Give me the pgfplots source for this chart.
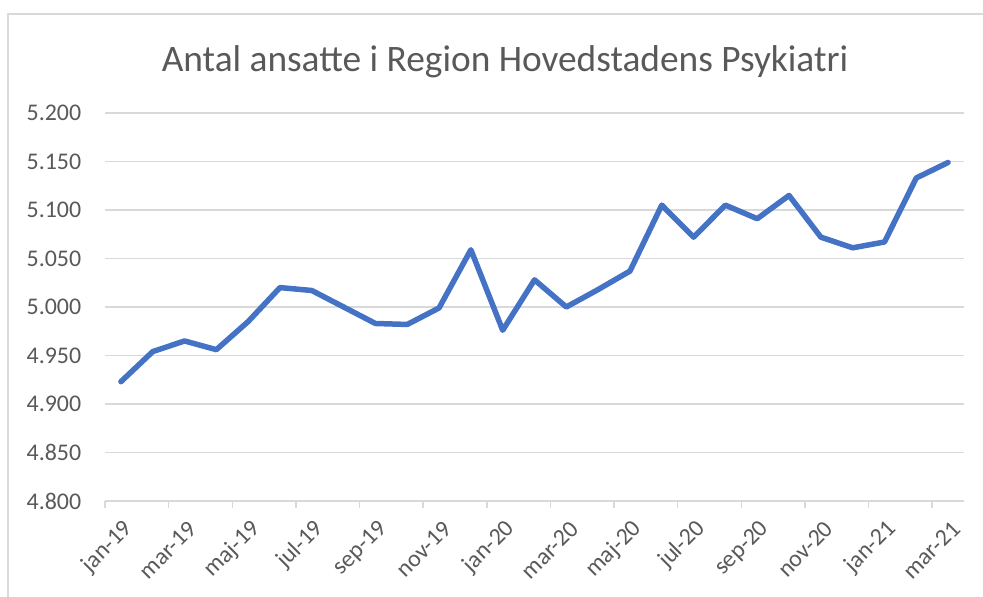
\documentclass[border=0pt]{standalone}
\usepackage{pgfplots}
\pgfplotsset{compat=1.18}
\usepackage{fontspec}
\setmainfont{Carlito}
\definecolor{txt}{HTML}{595959}
\definecolor{grd}{HTML}{D9D9D9}
\definecolor{ser}{HTML}{4472C4}
\begin{document}
\begin{tikzpicture}[x=1bp,y=1bp]
\useasboundingbox (0,0) rectangle (983,597);
\draw[grd, line width=1.2bp] (8,0) -- (8,583) -- (983,583);
\node[anchor=base, text=txt, font=\fontsize{37.5}{40}\selectfont] at (505,525) {Antal ansatte i Region Hovedstadens Psykiatri};
\begin{axis}[
  at={(105bp,96bp)}, anchor=south west,
  width=859bp, height=388bp, scale only axis,
  xmin=-0.5, xmax=26.5, ymin=4800, ymax=5200,
  axis x line*=bottom, axis y line*=left,
  y axis line style={draw=none},
  x axis line style={grd, line width=1.5bp},
  ytick={4800,4850,...,5200},
  yticklabels={4.800,4.850,4.900,4.950,5.000,5.050,5.100,5.150,5.200},
  ytick style={draw=none},
  ymajorgrids, major grid style={grd, line width=1.5bp},
  xtick={0,2,...,26},
  xticklabels={jan-19,mar-19,maj-19,jul-19,sep-19,nov-19,jan-20,mar-20,maj-20,jul-20,sep-20,nov-20,jan-21,mar-21},
  major x tick style={draw=none},
  minor xtick={-0.5,1.5,...,25.5},
  minor x tick style={grd, line width=1.5bp},
  minor tick length=7bp,
  tick align=outside,
  xticklabel style={rotate=45, anchor=east, font=\fontsize{24}{26}\selectfont, text=txt, xshift=-5bp, yshift=-20bp},
  yticklabel style={font=\fontsize{24}{26}\selectfont, text=txt, xshift=-16bp},
  clip=false,
]
\addplot[ser, line width=5.5bp, line join=round, line cap=round] coordinates {
(0,4923) (1,4954) (2,4965) (3,4956) (4,4985) (5,5020) (6,5017) (7,5000)
(8,4983) (9,4982) (10,4999) (11,5059) (12,4976) (13,5028) (14,5000)
(15,5018) (16,5037) (17,5105) (18,5072) (19,5105) (20,5091) (21,5115)
(22,5072) (23,5061) (24,5067) (25,5133) (26,5149)
};
\end{axis}
\end{tikzpicture}
\end{document}
